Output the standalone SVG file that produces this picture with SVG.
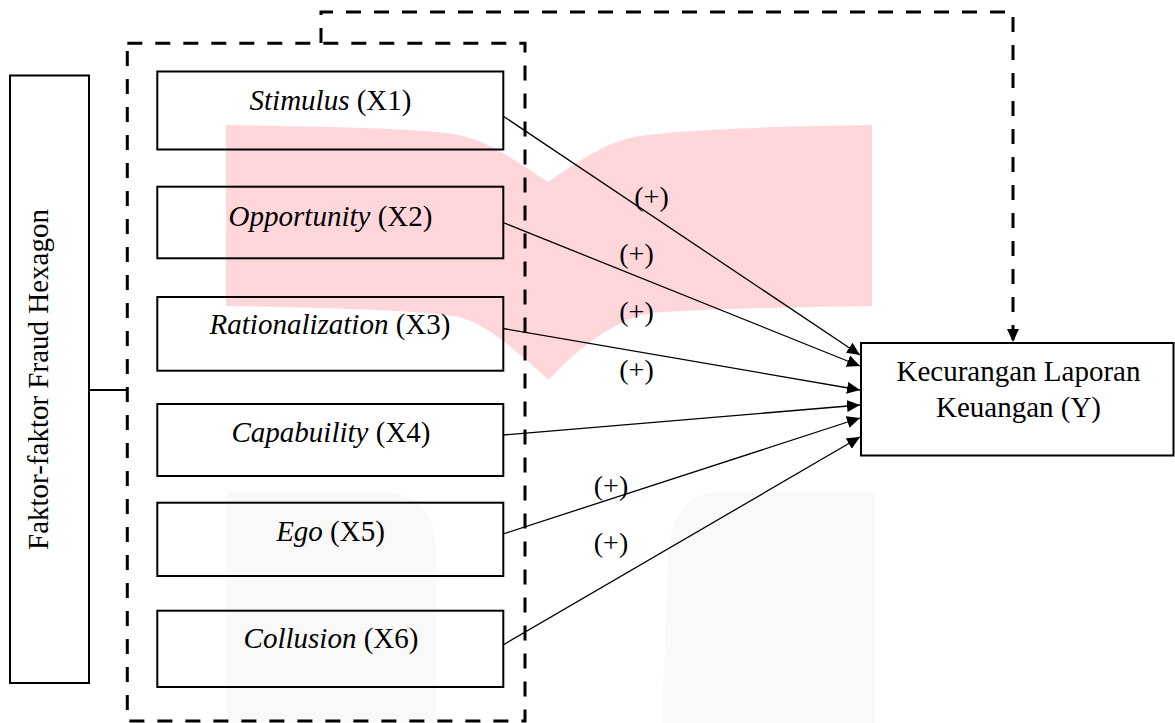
<svg xmlns="http://www.w3.org/2000/svg" width="1175" height="723" viewBox="0 0 1175 723">
  <style>
    .box { fill: none; stroke: #000; stroke-width: 2; }
    .lbl { font-family: "Liberation Serif", "Times New Roman", serif; font-size: 29px; fill: #000; text-anchor: middle; }
    .it { font-style: italic; }
    .sign { font-family: "Liberation Serif", "Times New Roman", serif; font-size: 28px; fill: #000; text-anchor: middle; }
    .conn { fill: none; stroke: #000; stroke-width: 1.3; }
    .dash { fill: none; stroke: #000; stroke-width: 3; stroke-dasharray: 15 13; }
  </style>
  <defs>
    <marker id="arr" markerUnits="userSpaceOnUse" markerWidth="14" markerHeight="12" refX="13" refY="6" orient="auto">
      <path d="M0,0 L13,6 L0,12 Z" fill="#000"/>
    </marker>
  </defs>

  <rect width="1175" height="723" fill="#fff"/>

  <g id="watermark">
    <path d="M226,125 C330,127 420,128 459,135 C490,142 520,163 548,182 C580,160 610,140 640,136 C700,128 800,126 872,125 L872,306 C800,307 700,309 651,313 C620,318 580,345 549,380 C520,355 490,325 459,317 C420,310 330,308 226,306 Z" fill="#ffd7db"/>
    <path d="M226,723 V492 H380 Q436,492 436,552 V723 Z" fill="#f9f9f9"/>
    <path d="M875,723 V492 H722 Q670,492 668,560 L662,723 Z" fill="#f9f9f9"/>
  </g>

  <g id="connectors">
    <line x1="89" y1="390" x2="127" y2="390" stroke="#000" stroke-width="2"/>
    <path class="dash" d="M321,43 V12 H1013 V342" marker-end="url(#arr)"/>
    <line class="conn" x1="503" y1="116" x2="860" y2="355" marker-end="url(#arr)"/>
    <line class="conn" x1="503" y1="222.5" x2="860" y2="366" marker-end="url(#arr)"/>
    <line class="conn" x1="503" y1="328.5" x2="860" y2="390" marker-end="url(#arr)"/>
    <line class="conn" x1="503" y1="435" x2="860" y2="405" marker-end="url(#arr)"/>
    <line class="conn" x1="503" y1="534" x2="860" y2="418" marker-end="url(#arr)"/>
    <line class="conn" x1="503" y1="645" x2="860" y2="437" marker-end="url(#arr)"/>
    <text class="sign" x="651.5" y="206">(+)</text>
    <text class="sign" x="636.5" y="263">(+)</text>
    <text class="sign" x="636.5" y="321">(+)</text>
    <text class="sign" x="636.5" y="379">(+)</text>
    <text class="sign" x="611" y="495">(+)</text>
    <text class="sign" x="611" y="552">(+)</text>
  </g>

  <g id="group-frame">
    <rect class="dash" x="127.3" y="43.3" width="397.7" height="677.7"/>
  </g>

  <g id="faktor">
    <rect class="box" x="10" y="75.5" width="79" height="607.5"/>
    <text class="lbl" transform="translate(48,379.5) rotate(-90)">Faktor-faktor Fraud Hexagon</text>
  </g>

  <g id="x1">
    <rect class="box" x="157.3" y="71.5" width="346" height="78"/>
    <text class="lbl" x="330.5" y="110"><tspan class="it">Stimulus</tspan> (X1)</text>
  </g>
  <g id="x2">
    <rect class="box" x="157.3" y="186.7" width="346" height="71.6"/>
    <text class="lbl" x="330.5" y="226"><tspan class="it">Opportunity</tspan> (X2)</text>
  </g>
  <g id="x3">
    <rect class="box" x="157.3" y="297" width="346" height="73.7"/>
    <text class="lbl" x="330" y="334"><tspan class="it">Rationalization</tspan> (X3)</text>
  </g>
  <g id="x4">
    <rect class="box" x="157.3" y="404" width="346" height="72"/>
    <text class="lbl" x="331" y="442"><tspan class="it">Capabuility</tspan> (X4)</text>
  </g>
  <g id="x5">
    <rect class="box" x="157.3" y="502.7" width="346" height="73.3"/>
    <text class="lbl" x="330.5" y="541"><tspan class="it">Ego</tspan> (X5)</text>
  </g>
  <g id="x6">
    <rect class="box" x="157.3" y="610.7" width="346" height="76.3"/>
    <text class="lbl" x="331" y="648"><tspan class="it">Collusion</tspan> (X6)</text>
  </g>

  <g id="y">
    <rect class="box" x="861" y="343" width="312.5" height="112.5" stroke-width="2.5"/>
    <text class="lbl" x="1018.5" y="381">Kecurangan Laporan</text>
    <text class="lbl" x="1018.5" y="417">Keuangan (Y)</text>
  </g>
</svg>
